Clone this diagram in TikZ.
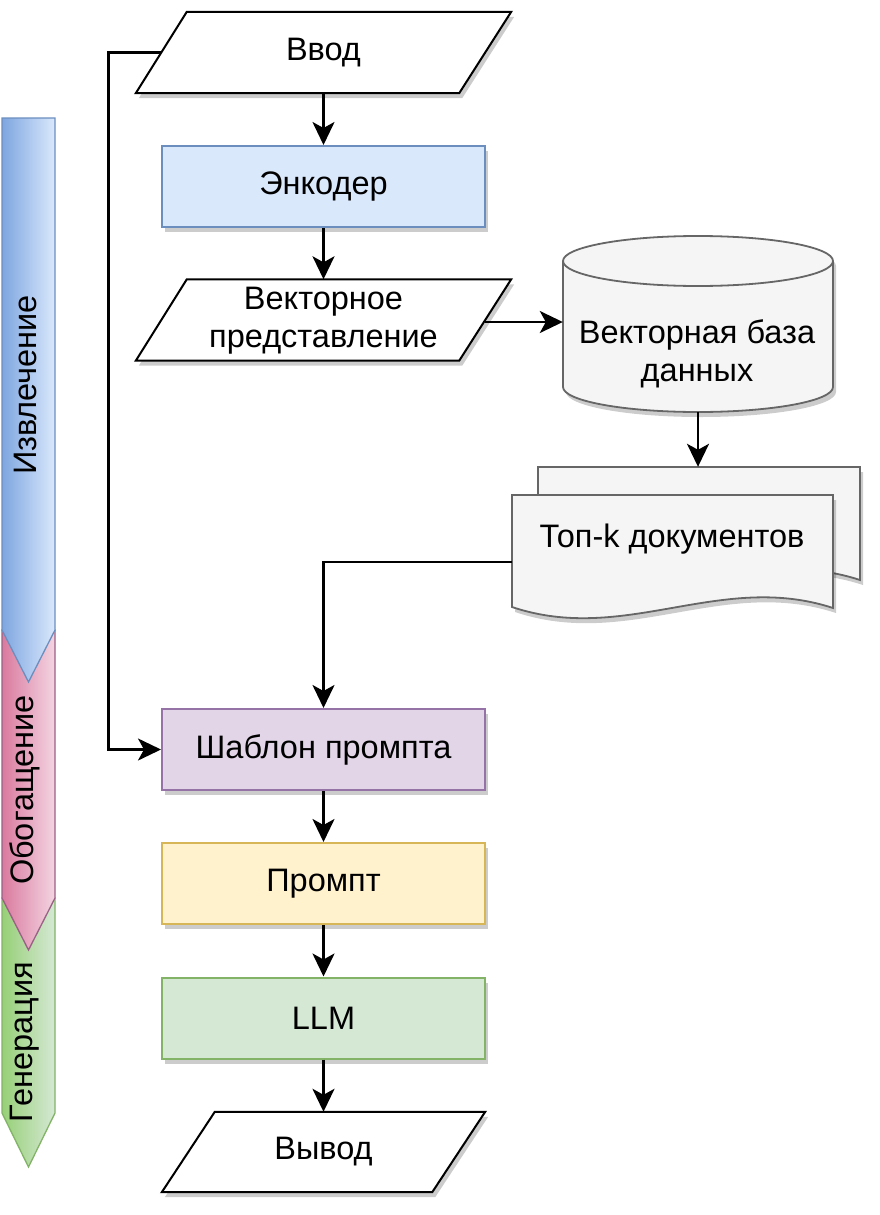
\documentclass[tikz,border=0pt]{standalone}
\usepackage{fontspec}
\setmainfont{Liberation Sans}
\usetikzlibrary{arrows.meta,calc,shadows}
\definecolor{encF}{HTML}{DAE8FC}\definecolor{encS}{HTML}{6C8EBF}
\definecolor{tplF}{HTML}{E1D5E7}\definecolor{tplS}{HTML}{9673A6}
\definecolor{prmF}{HTML}{FFF2CC}\definecolor{prmS}{HTML}{D6B656}
\definecolor{llmF}{HTML}{D5E8D4}\definecolor{llmS}{HTML}{82B366}
\definecolor{dbF}{HTML}{F5F5F5}\definecolor{dbS}{HTML}{666666}
\definecolor{bluL}{HTML}{7EA6E0}\definecolor{bluR}{HTML}{DAE8FC}
\definecolor{pnkL}{HTML}{DA7A9E}\definecolor{pnkR}{HTML}{F3D5E2}\definecolor{pnkS}{HTML}{996185}
\definecolor{grnL}{HTML}{97D077}\definecolor{grnR}{HTML}{D5E8D4}
\begin{document}
\begin{tikzpicture}[x=1pt,y=-1pt,
  every node/.style={font=\fontsize{32.5}{38}\selectfont, inner sep=0pt},
  shad/.style={drop shadow={shadow xshift=3pt,shadow yshift=-5pt,opacity=0.2,fill=black}},
  box/.style={draw, line width=2pt, minimum width=323, minimum height=81, shad},
  iobox/.style={minimum width=375, minimum height=81, align=center},
  ioshape/.style={draw=black, fill=white, line width=2pt, shad},
  dbshape/.style={draw=dbS, fill=dbF, line width=1.8pt},
  phase/.style={line width=1.3pt},
  arr/.style={draw=black, line width=2.5pt, -{Stealth[length=23pt,width=22pt,inset=6pt]}}]
\useasboundingbox[fill=white] (0,0) rectangle (880,1215);

% phase bars
\draw[phase, draw=llmS, left color=grnL, right color=grnR] (2,898) -- (55,898) -- (55,1113) -- (28.5,1167) -- (2,1113) -- cycle;
\draw[phase, draw=pnkS, left color=pnkL, right color=pnkR] (2,630) -- (55,630) -- (55,898) -- (28.5,950) -- (2,898) -- cycle;
\draw[phase, draw=encS, left color=bluL, right color=bluR] (2,118) -- (55,118) -- (55,630) -- (28.5,682) -- (2,630) -- cycle;
\node[rotate=90] (ph1) at (25,385) {Извлечение};
\node[rotate=90] (ph2) at (25,790) {Обогащение};
\node[rotate=90] (ph3) at (25,1042) {Генерация};

% input
\node[iobox] (in) at (323.5,52.5) {};
\path[ioshape] ($(in.north west)+(51,0)$) -- (in.north east) -- ($(in.south east)+(-52,0)$) -- (in.south west) -- cycle;
\node (intext) at (in.center) {Ввод};

% encoder
\node[box, fill=encF, draw=encS] (enc) at (323.5,186.5) {Энкодер};

% vector representation
\node[iobox] (vec) at (323.5,320) {};
\path[ioshape] ($(vec.north west)+(51,0)$) -- (vec.north east) -- ($(vec.south east)+(-52,0)$) -- (vec.south west) -- cycle;
\node[align=center] (vectext) at (323.5,321) {Векторное\\представление};

% database cylinder
\node[minimum width=270, minimum height=176] (db) at (698,324) {};
\path[dbshape, shad] (563,261) -- (563,387) arc[start angle=180, end angle=0, x radius=135, y radius=25] -- (833,261) arc[start angle=0, end angle=-180, x radius=135, y radius=25] -- cycle;
\draw[dbshape, fill=none] (563,261) arc[start angle=180, end angle=0, x radius=135, y radius=25];
\node[align=center] (dbtext) at (697,354) {Векторная база\\данных};

% documents
\node[minimum width=322, minimum height=113] (docsb) at (699,523.5) {};
\node[minimum width=321, minimum height=113] (docs) at (672.5,551.5) {};
\path[dbshape, shad] (538,467) -- (860,467) -- (860,580) .. controls (747,543) and (652,617) .. (538,579) -- cycle;
\path[dbshape, shad] (512,495) -- (833,495) -- (833,608) .. controls (720,571) and (625,645) .. (512,607) -- cycle;
\node (doctext) at (672,539) {Топ-k документов};

% lower boxes
\node[box, fill=tplF, draw=tplS] (tpl) at (323.5,749.5) {Шаблон промпта};
\node[box, fill=prmF, draw=prmS] (prm) at (323.5,883.5) {Промпт};
\node[box, fill=llmF, draw=llmS] (llm) at (323.5,1018) {LLM};

% output
\node[minimum width=323, minimum height=80] (out) at (323.5,1152) {};
\path[ioshape] ($(out.north west)+(53,0)$) -- (out.north east) -- ($(out.south east)+(-53,0)$) -- (out.south west) -- cycle;
\node (outtext) at (out.center) {Вывод};

% connectors
\coordinate (inL) at ($(in.west)+(25.5,0)$);
\coordinate (vecR) at ($(vec.east)+(-26,2)$);
\coordinate (docL) at ($(docs.west)+(0,10.5)$);
\draw[arr] (in.south) -- (enc.north);
\draw[arr] (enc.south) -- (vec.north);
\draw[arr] (vecR) -- (vecR -| db.west);
\draw[arr] (db.south) -- (db.south |- docsb.north);
\draw[arr] (docL) -| (tpl.north);
\draw[arr] (inL) -- ++(-53,0) |- (tpl.west);
\draw[arr] (tpl.south) -- (prm.north);
\draw[arr] (prm.south) -- (llm.north);
\draw[arr] (llm.south) -- (out.north);
\end{tikzpicture}
\end{document}
